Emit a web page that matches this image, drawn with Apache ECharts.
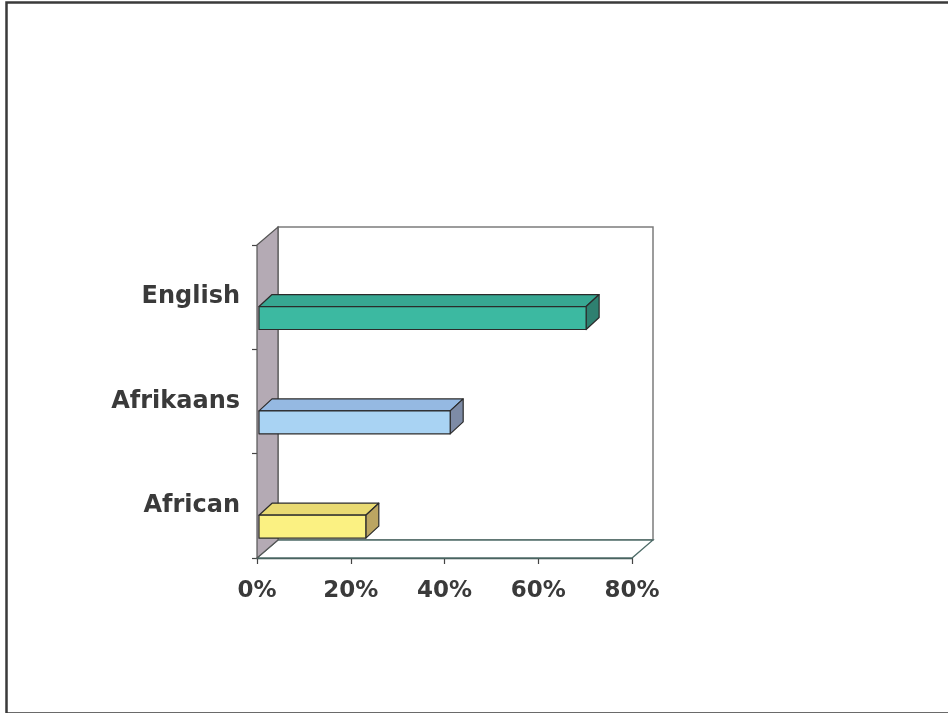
<!DOCTYPE html>
<html>
<head>
<meta charset="utf-8">
<script src="https://cdn.jsdelivr.net/npm/echarts@6/dist/echarts.min.js"></script>
<style>
html,body{margin:0;padding:0;background:#fff;}
#c{width:948px;height:713px;}
</style>
</head>
<body>
<div id="c"></div>
<script>
// Data
var categories = ['African', 'Afrikaans', 'English'];
var shares = [0.23, 0.41, 0.70];
var xTicks = [0, 0.2, 0.4, 0.6, 0.8];
var frontColors = ['#fbf182', '#a9d3f3', '#3cb9a1'];
var topColors = ['#e9da72', '#95b9e2', '#37a792'];
var sideColors = ['#bba562', '#7d8ba6', '#2e8070'];

var chart = echarts.init(document.getElementById('c'));

var DX = 21, DY = -18;   // wall depth offset
var BX = 13, BY = -12;   // bar depth offset

function wallsRender(params, api) {
  var band = api.size([0, 1])[1];
  var x0 = api.coord([xTicks[0], 0])[0];
  var x1 = api.coord([xTicks[xTicks.length - 1], 0])[0];
  var yBot = api.coord([0, 0])[1] + band / 2;
  var yTop = api.coord([0, categories.length - 1])[1] - band / 2;
  return {
    type: 'group',
    children: [
      { type: 'polygon', shape: { points: [[x0 + DX, yTop + DY], [x1 + DX, yTop + DY], [x1 + DX, yBot + DY], [x0 + DX, yBot + DY]] },
        style: { fill: '#ffffff', stroke: '#7c7c7c', lineWidth: 1.5 } },
      { type: 'polygon', shape: { points: [[x0, yBot], [x1, yBot], [x1 + DX, yBot + DY], [x0 + DX, yBot + DY]] },
        style: { fill: '#ffffff', stroke: '#4d6b67', lineWidth: 1.3 } },
      { type: 'polygon', shape: { points: [[x0, yTop], [x0 + DX, yTop + DY], [x0 + DX, yBot + DY], [x0, yBot]] },
        style: { fill: '#b4aab4', stroke: '#555555', lineWidth: 1.2 } }
    ]
  };
}

function barRender(params, api) {
  var i = api.value(1);
  var v = api.value(0);
  var band = api.size([0, 1])[1];
  var p0 = api.coord([0, i]);
  var p1 = api.coord([v, i]);
  var h = band * 0.22;
  var cy = p0[1] + band * 0.2;
  var xl = p0[0] + 2, xr = p1[0] + 1;
  var yt = cy - h / 2, yb = cy + h / 2;
  var st = { stroke: '#2b2b2b', lineWidth: 1.2, lineJoin: 'round' };
  return {
    type: 'group',
    children: [
      { type: 'polygon', shape: { points: [[xl, yt], [xl + BX, yt + BY], [xr + BX, yt + BY], [xr, yt]] },
        style: Object.assign({ fill: topColors[i] }, st) },
      { type: 'polygon', shape: { points: [[xr, yt], [xr + BX, yt + BY], [xr + BX, yb + BY], [xr, yb]] },
        style: Object.assign({ fill: sideColors[i] }, st) },
      { type: 'polygon', shape: { points: [[xl, yt], [xr, yt], [xr, yb], [xl, yb]] },
        style: Object.assign({ fill: frontColors[i] }, st) }
    ]
  };
}

var barData = shares.map(function (v, i) { return [v, i]; });

chart.setOption({
  animation: false,
  backgroundColor: '#ffffff',
  graphic: [{
    type: 'rect', left: 4, top: 0, z: 100, silent: true,
    shape: { width: 952, height: 711 },
    style: { fill: 'none', stroke: '#3a3a3a', lineWidth: 2.5 }
  }],
  grid: { left: 257, right: 316, top: 245, bottom: 155, containLabel: false },
  xAxis: {
    type: 'value', min: 0, max: 0.8, interval: 0.2,
    axisLine: { show: true, lineStyle: { color: '#3f4f4d', width: 1.3 } },
    axisTick: { show: true, length: 6, lineStyle: { color: '#444', width: 1.2 } },
    splitLine: { show: false },
    axisLabel: {
      margin: 22,
      formatter: function (v) { return Math.round(v * 100) + '%'; },
      fontFamily: 'DejaVu Sans', fontWeight: 'bold', fontSize: 23, color: '#3a3a3a'
    }
  },
  yAxis: {
    type: 'category', data: categories,
    axisLine: { show: false },
    axisTick: { show: true, length: 5, inside: false, lineStyle: { color: '#444', width: 1.2 } },
    axisLabel: {
      margin: 17,
      fontFamily: 'DejaVu Sans', fontWeight: 'bold', fontSize: 24, color: '#3a3a3a'
    }
  },
  series: [
    { type: 'custom', name: 'walls', renderItem: wallsRender, data: [[0, 0]], z: 1, silent: true, clip: false },
    { type: 'custom', name: 'share', renderItem: barRender, data: barData, z: 3, clip: false,
      encode: { x: 0, y: 1 } }
  ]
});
</script>
</body>
</html>
